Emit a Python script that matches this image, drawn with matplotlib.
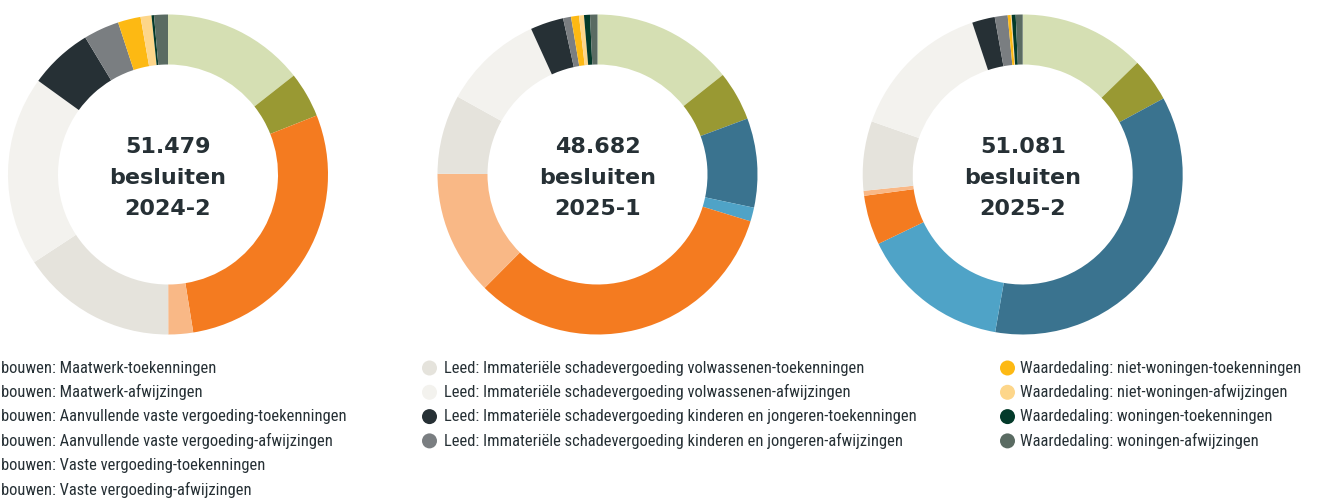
import matplotlib
matplotlib.use("Agg")
import matplotlib.pyplot as plt
from matplotlib import font_manager as fm
from matplotlib.patches import Circle

W, H = 1322, 498

categories = [
    "bouwen: Maatwerk-toekenningen",
    "bouwen: Maatwerk-afwijzingen",
    "bouwen: Aanvullende vaste vergoeding-toekenningen",
    "bouwen: Aanvullende vaste vergoeding-afwijzingen",
    "bouwen: Vaste vergoeding-toekenningen",
    "bouwen: Vaste vergoeding-afwijzingen",
    "Leed: Immateriële schadevergoeding volwassenen-toekenningen",
    "Leed: Immateriële schadevergoeding volwassenen-afwijzingen",
    "Leed: Immateriële schadevergoeding kinderen en jongeren-toekenningen",
    "Leed: Immateriële schadevergoeding kinderen en jongeren-afwijzingen",
    "Waardedaling: niet-woningen-toekenningen",
    "Waardedaling: niet-woningen-afwijzingen",
    "Waardedaling: woningen-toekenningen",
    "Waardedaling: woningen-afwijzingen",
]
colors = ["#D5DFB3", "#999933", "#3A738F", "#4FA3C7", "#F47B20", "#F9B886",
          "#E5E3DC", "#F3F2EE", "#263035", "#7A7E81",
          "#FDB913", "#FDD68A", "#033A2A", "#5A6B62"]

# shares (%)
values_2024_2 = [14.4, 4.6, 0.0, 0.0, 28.5, 2.5, 15.8, 19.2, 6.4, 3.6, 2.3, 1.1, 0.25, 1.4]
values_2025_1 = [14.3, 5.0, 9.0, 1.4, 32.7, 12.6, 8.0, 10.1, 3.35, 0.8, 0.8, 0.5, 0.6, 0.75]
values_2025_2 = [12.7, 4.4, 35.6, 15.1, 5.0, 0.5, 7.0, 14.5, 2.3, 1.3, 0.3, 0.1, 0.4, 0.7]

totals = ["51.479", "48.682", "51.081"]
periods = ["2024-2", "2025-1", "2025-2"]
series = [values_2024_2, values_2025_1, values_2025_2]

installed = {f.name for f in fm.fontManager.ttflist}
def pick(cands):
    for c in cands:
        if c in installed:
            return c
    return "DejaVu Sans"

legend_font = pick(["Liberation Sans Narrow", "DejaVu Sans Condensed", "Roboto Condensed", "Open Sans Condensed", "Roboto"])
title_font = "DejaVu Sans"

dark = "#263035"
fig = plt.figure(figsize=(W / 100, H / 100), dpi=100)

centers_x = [168, 597.5, 1022.7]
cy = 174.5
R = 160
for cx, vals, tot, per in zip(centers_x, series, totals, periods):
    ax = fig.add_axes([(cx - R) / W, (H - cy - R) / H, 2 * R / W, 2 * R / H])
    ax.pie(vals, colors=colors, startangle=90, counterclock=False, radius=1,
           wedgeprops=dict(width=0.3125, linewidth=0))
    ax.set_xlim(-1, 1)
    ax.set_ylim(-1, 1)
    ax.set_aspect("equal")
    ax.axis("off")
    for txt, dy in zip([tot, "besluiten", per], [-28.0, 3.5, 34.5]):
        ax.text(0, -dy / R, txt, ha="center", va="center", fontsize=16,
                fontweight="bold", color=dark, family=title_font)

# legend
row_y = [368, 392.3, 416.6, 440.9, 465.2, 489.5]
cols = [(None, 1, range(0, 6)), (429.5, 444, range(6, 10)), (1007.5, 1020, range(10, 14))]
lax = fig.add_axes([0, 0, 1, 1])
lax.set_xlim(0, W)
lax.set_ylim(H, 0)
lax.axis("off")
for mx, tx, idxs in cols:
    for r, i in enumerate(idxs):
        y = row_y[r]
        if mx is not None:
            lax.add_patch(Circle((mx, y), 7.5, color=colors[i], lw=0))
        lax.text(tx, y, categories[i], ha="left", va="center", fontsize=11.9,
                 color=dark, family=legend_font)

fig.savefig("out.png", dpi=100)
